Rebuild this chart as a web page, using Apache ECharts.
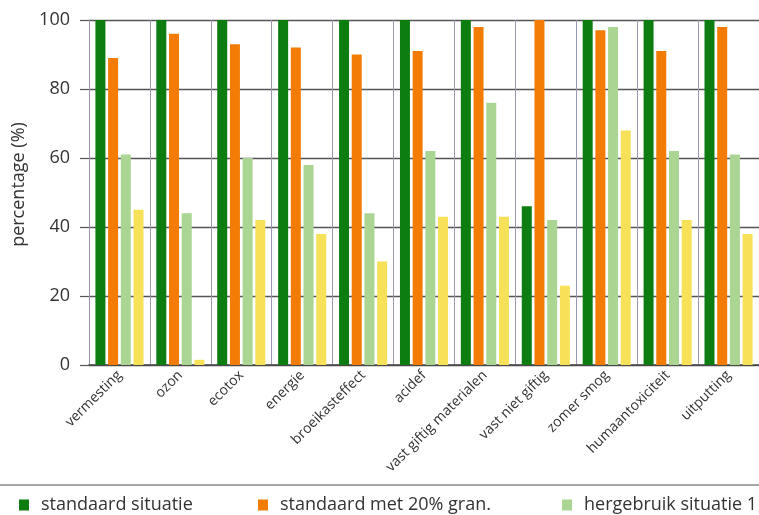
<!DOCTYPE html>
<html>
<head>
<meta charset="utf-8">
<script src="https://cdn.jsdelivr.net/npm/echarts@6/dist/echarts.min.js"></script>
<style>
  html, body { margin: 0; padding: 0; background: #ffffff; }
  #chart { width: 759px; height: 515px; }
</style>
</head>
<body>
<div id="chart"></div>
<script>
// Impact categories (x axis)
const categories = [
  'vermesting', 'ozon', 'ecotox', 'energie', 'broeikasteffect', 'acidef',
  'vast giftig materialen', 'vast niet giftig', 'zomer smog',
  'humaantoxiciteit', 'uitputting'
];

// Scores per scenario, in percent
const standaardSituatie   = [100, 100, 100, 100, 100, 100, 100, 46, 100, 100, 100];
const standaardMet20Gran  = [89, 96, 93, 92, 90, 91, 98, 100, 97, 91, 98];
const hergebruikSituatie1 = [61, 44, 60, 58, 44, 62, 76, 42, 98, 62, 61];
const hergebruikSituatie2 = [45, 1.5, 42, 38, 30, 43, 43, 23, 68, 42, 38];

const seriesNames = [
  'standaard situatie',
  'standaard met 20% gran.',
  'hergebruik situatie 1',
  'hergebruik situatie 2'
];

const yTicks = { min: 0, max: 100, interval: 20 };

const colors = ['#0d7d12', '#f27c05', '#aad593', '#f7e158'];
const FONT = '"Open Sans", "Noto Sans", sans-serif';
const TEXT = '#333333';

const chart = echarts.init(document.getElementById('chart'), null, { renderer: 'canvas' });

function bar(name, data, color) {
  return {
    name: name,
    type: 'bar',
    data: data,
    barWidth: 10,
    barGap: '27%',
    itemStyle: { color: color },
    emphasis: { disabled: true }
  };
}

function legendAt(name, left) {
  return {
    data: [name],
    left: left,
    top: 491,
    icon: 'rect',
    itemWidth: 10,
    itemHeight: 11,
    selectedMode: false,
    textStyle: {
      fontFamily: FONT,
      fontSize: 18,
      color: TEXT,
      padding: [0, 0, 0, 7]
    }
  };
}

chart.setOption({
  animation: false,
  backgroundColor: '#ffffff',
  textStyle: { fontFamily: FONT },
  grid: { left: 89, top: 20, width: 672, height: 345, containLabel: false },
  legend: [
    legendAt(seriesNames[0], 14),
    legendAt(seriesNames[1], 253),
    legendAt(seriesNames[2], 557)
  ],
  xAxis: {
    type: 'category',
    data: categories,
    boundaryGap: true,
    axisLine: { show: true, lineStyle: { color: '#444444', width: 1.5 } },
    axisTick: { show: false },
    splitLine: { show: true, interval: 0, lineStyle: { color: '#9b98ad', width: 1 } },
    axisLabel: {
      interval: 0,
      rotate: 45,
      margin: 8,
      fontFamily: FONT,
      fontSize: 14,
      color: TEXT
    }
  },
  yAxis: {
    type: 'value',
    min: yTicks.min,
    max: yTicks.max,
    interval: yTicks.interval,
    name: 'percentage (%)',
    nameLocation: 'middle',
    nameGap: 54,
    nameTextStyle: { fontFamily: FONT, fontSize: 18, color: TEXT, padding: [0, 0, 0, 16] },
    axisLine: { show: true, lineStyle: { color: '#9b98ad', width: 1 } },
    axisTick: { show: true, length: 9, lineStyle: { color: '#555555', width: 1.2 } },
    splitLine: { show: true, lineStyle: { color: '#555555', width: 1.3 } },
    axisLabel: { margin: 19, fontFamily: FONT, fontSize: 18, color: TEXT }
  },
  graphic: [
    {
      type: 'line',
      shape: { x1: 0, y1: 485, x2: 759, y2: 485 },
      style: { stroke: '#8a8a8a', lineWidth: 1.5 },
      silent: true
    }
  ],
  series: [
    bar(seriesNames[0], standaardSituatie, colors[0]),
    bar(seriesNames[1], standaardMet20Gran, colors[1]),
    bar(seriesNames[2], hergebruikSituatie1, colors[2]),
    bar(seriesNames[3], hergebruikSituatie2, colors[3])
  ]
});
</script>
</body>
</html>
